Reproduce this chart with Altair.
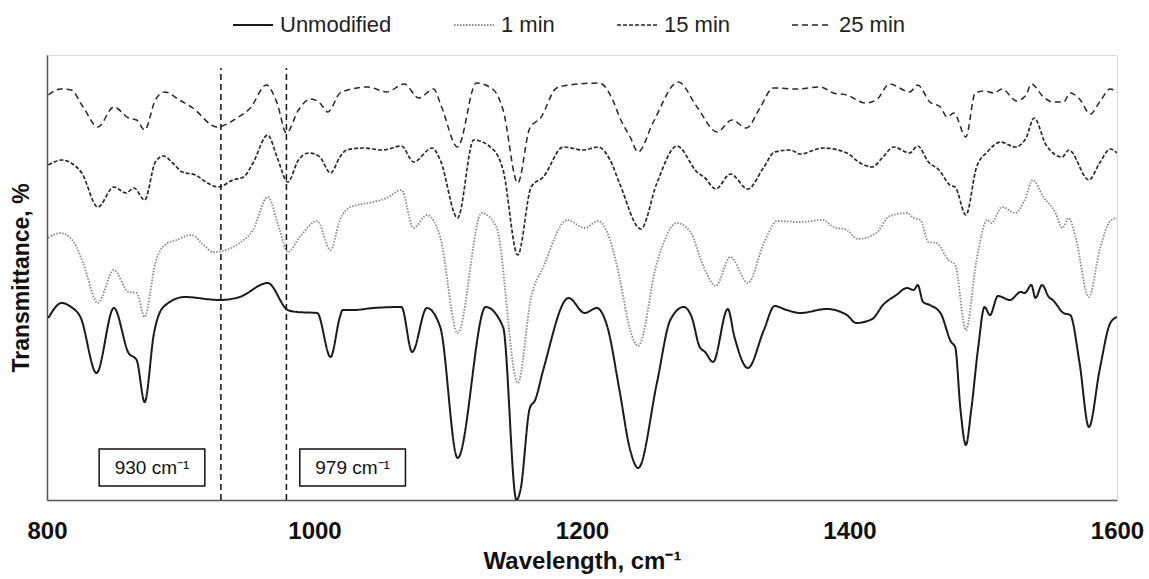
import altair as alt
import pandas as pd

# ---- data (arbitrary transmittance units) ----
series_names = ["Unmodified", "1 min", "15 min", "25 min"]

unmod_w = [801, 811, 818, 825, 837, 850, 861, 867, 873, 880, 887, 903, 929, 944, 965, 980, 987, 1002, 1012, 1019,
           1021, 1029, 1044, 1065, 1073, 1084, 1094, 1107, 1128, 1141, 1151, 1154, 1161, 1165, 1171, 1190, 1202, 1211,
           1219, 1228, 1236, 1242, 1256, 1266, 1276, 1282, 1288, 1292, 1298, 1309, 1314, 1324, 1336, 1344, 1353, 1363,
           1383, 1398, 1405, 1417, 1425, 1435, 1443, 1448, 1451, 1455, 1460, 1468, 1476, 1479, 1483, 1487, 1491, 1496,
           1501, 1505, 1511, 1520, 1528, 1531, 1536, 1539, 1544, 1549, 1552, 1560, 1565, 1572, 1579, 1587, 1595, 1600]
unmod_v = [182, 197, 193, 183, 127, 192, 147, 140, 98, 167, 193, 203, 200, 203, 217, 190, 188, 187, 143, 183,
           190, 190, 192, 193, 148, 192, 173, 42, 193, 173, 0, 10, 92, 100, 130, 202, 187, 192,
           173, 110, 50, 32, 117, 180, 193, 183, 153, 148, 138, 191, 163, 132, 170, 194, 190, 187,
           191, 185, 177, 181, 195, 205, 212, 210, 215, 198, 195, 187, 158, 153, 90, 55, 90, 150,
           193, 185, 204, 200, 208, 207, 215, 202, 215, 203, 200, 187, 185, 137, 73, 130, 177, 183]

one_w = [801, 810, 820, 827, 838, 850, 861, 867, 873, 881, 888, 897, 908, 917, 924, 934, 944, 954, 965, 974,
         980, 989, 1002, 1012, 1019, 1027, 1044, 1054, 1065, 1074, 1084, 1094, 1107, 1125, 1136, 1152, 1162, 1171,
         1189, 1202, 1212, 1221, 1228, 1236, 1242, 1256, 1271, 1281, 1291, 1300, 1311, 1324, 1336, 1346, 1363,
         1380, 1388, 1398, 1406, 1420, 1430, 1443, 1448, 1453, 1459, 1465, 1474, 1479, 1487, 1495, 1503, 1506,
         1514, 1524, 1531, 1537, 1545, 1554, 1559, 1564, 1569, 1579, 1587, 1595, 1600]
one_v = [262, 267, 258, 237, 197, 230, 208, 207, 183, 237, 255, 260, 265, 255, 248, 250, 257, 270, 303, 270,
         248, 263, 279, 250, 280, 293, 298, 302, 310, 272, 285, 263, 167, 287, 273, 117, 203, 233,
         280, 272, 279, 260, 223, 170, 154, 237, 277, 268, 233, 214, 243, 217, 257, 279, 278,
         280, 273, 270, 261, 267, 284, 287, 282, 280, 258, 257, 240, 235, 170, 240, 280, 277,
         293, 287, 300, 320, 303, 287, 272, 282, 263, 203, 250, 279, 282]

f15_w = [801, 811, 818, 826, 838, 850, 859, 865, 873, 881, 887, 894, 901, 911, 920, 928, 939, 947, 954, 965,
         972, 980, 988, 996, 1004, 1012, 1019, 1024, 1036, 1051, 1065, 1074, 1088, 1094, 1107, 1119, 1134, 1141,
         1152, 1162, 1171, 1186, 1201, 1212, 1221, 1228, 1244, 1256, 1271, 1286, 1292, 1300, 1311, 1324, 1336,
         1344, 1356, 1363, 1380, 1398, 1408, 1417, 1425, 1433, 1445, 1451, 1459, 1467, 1475, 1479, 1487, 1495,
         1503, 1513, 1524, 1532, 1538, 1547, 1559, 1564, 1579, 1587, 1595, 1600]
f15_v = [335, 340, 337, 327, 293, 313, 307, 312, 300, 338, 344, 337, 328, 325, 317, 313, 320, 323, 337, 365,
         343, 318, 340, 347, 343, 327, 343, 350, 352, 350, 354, 338, 352, 340, 282, 360, 350, 330,
         245, 313, 323, 353, 350, 353, 340, 317, 271, 317, 354, 328, 322, 311, 326, 311, 333,
         348, 350, 346, 352, 347, 337, 333, 343, 353, 347, 354, 338, 330, 315, 313, 285, 333,
         348, 358, 353, 362, 382, 355, 343, 350, 320, 337, 351, 347]

f25_w = [801, 810, 818, 827, 838, 850, 861, 867, 873, 881, 888, 899, 909, 927, 942, 952, 964, 972, 979, 988,
         997, 1004, 1010, 1019, 1025, 1040, 1054, 1067, 1078, 1089, 1095, 1107, 1121, 1134, 1141, 1152, 1161,
         1169, 1181, 1191, 1213, 1223, 1228, 1236, 1242, 1253, 1272, 1286, 1301, 1312, 1323, 1333, 1343, 1361,
         1378, 1388, 1398, 1412, 1420, 1430, 1445, 1451, 1460, 1468, 1473, 1478, 1487, 1494, 1501, 1508, 1514,
         1525, 1532, 1536, 1545, 1552, 1560, 1565, 1572, 1580, 1587, 1595, 1600]
f25_v = [405, 411, 410, 393, 373, 393, 382, 380, 370, 400, 408, 400, 392, 373, 382, 392, 415, 397, 367, 390,
         401, 397, 388, 407, 410, 413, 408, 416, 402, 411, 393, 353, 417, 410, 390, 317, 372,
         382, 412, 415, 417, 400, 383, 363, 348, 377, 418, 393, 368, 380, 372, 392, 412, 411,
         413, 407, 405, 397, 400, 416, 408, 415, 398, 393, 383, 387, 363, 407, 409, 407, 411,
         399, 405, 416, 403, 398, 398, 407, 401, 386, 398, 411, 408]

x_tick_values = [800, 1000, 1200, 1400, 1600]
marker_w = [930, 979]
label_texts = ["930 cm\u207b\u00b9", "979 cm\u207b\u00b9"]
box_left = [839, 989]
box_right = [918, 1068]

# ---- build tables ----
rows = []
for name, ws, vs in zip(series_names, [unmod_w, one_w, f15_w, f25_w], [unmod_v, one_v, f15_v, f25_v]):
    for w, v in zip(ws, vs):
        rows.append({"series": name, "w": w, "t": v})
df = pd.DataFrame(rows)

marker_df = pd.DataFrame({"w": marker_w, "y0": [0, 0], "y1": [432, 432]})
box_df = pd.DataFrame({"x1": box_left, "x2": box_right, "y1": [14, 14], "y2": [51, 51],
                       "xc": [(a + b) / 2 for a, b in zip(box_left, box_right)], "yc": [32.5, 32.5],
                       "label": label_texts})

FONT = "Liberation Sans"

legend = alt.Legend(orient="none", legendX=185, legendY=-51, direction="horizontal", columns=4,
                    title=None, symbolType="stroke", symbolSize=1600, symbolStrokeWidth=2,
                    labelFontSize=22, labelFont=FONT, labelColor="#222222",
                    columnPadding=58, labelOffset=6)

x_scale = alt.Scale(domain=[800, 1600], nice=False, zero=False)
y_scale = alt.Scale(domain=[0, 445], nice=False, zero=False)

lines = alt.Chart(df).mark_line(interpolate="monotone", clip=True).encode(
    x=alt.X("w:Q", scale=x_scale,
            axis=alt.Axis(title="Wavelength, cm\u207b\u00b9", values=x_tick_values, format="d",
                          ticks=False, tickSize=0, grid=False, labelFont=FONT, labelFontSize=24,
                          labelFontWeight="bold", labelColor="#111111", labelPadding=19,
                          titleFont=FONT, titleFontSize=24, titleFontWeight="bold", titleColor="#111111",
                          titlePadding=6, domainColor="#555555", domainWidth=1.5, labelFlush=False)),
    y=alt.Y("t:Q", scale=y_scale,
            axis=alt.Axis(title="Transmittance, %", labels=False, ticks=False, grid=False,
                          titleFont=FONT, titleFontSize=23, titleFontWeight="bold", titleColor="#111111",
                          titlePadding=14, domainColor="#555555", domainWidth=1.5)),
    color=alt.Color("series:N", scale=alt.Scale(domain=series_names,
                                                 range=["#1a1a1a", "#8a8a8a", "#262626", "#262626"]),
                    legend=legend),
    strokeDash=alt.StrokeDash("series:N", scale=alt.Scale(domain=series_names,
                                                          range=[[1, 0], [1.5, 1.5], [4, 2], [6, 4]]),
                              legend=legend),
    strokeWidth=alt.StrokeWidth("series:N", scale=alt.Scale(domain=series_names, range=[2, 1.5, 2.2, 2]),
                                legend=None),
    order="w:Q",
)

markers = alt.Chart(marker_df).mark_rule(color="#111111", strokeWidth=1.5, strokeDash=[6, 4]).encode(
    x="w:Q", y="y0:Q", y2="y1:Q")

boxes = alt.Chart(box_df).mark_rect(fill="white", stroke="#111111", strokeWidth=1.5).encode(
    x="x1:Q", x2="x2:Q", y="y1:Q", y2="y2:Q")

texts = alt.Chart(box_df).mark_text(font=FONT, fontSize=19, color="#111111").encode(
    x="xc:Q", y="yc:Q", text="label:N")

chart = alt.layer(lines, markers, boxes, texts).properties(
    width=1070, height=445,
    autosize=alt.AutoSizeParams(type="none"),
    padding={"left": 47, "top": 55, "right": 32, "bottom": 79},
).configure_view(stroke=None).configure(background="white")

chart.save("out.html", embed_options={"renderer": "svg", "actions": False})
